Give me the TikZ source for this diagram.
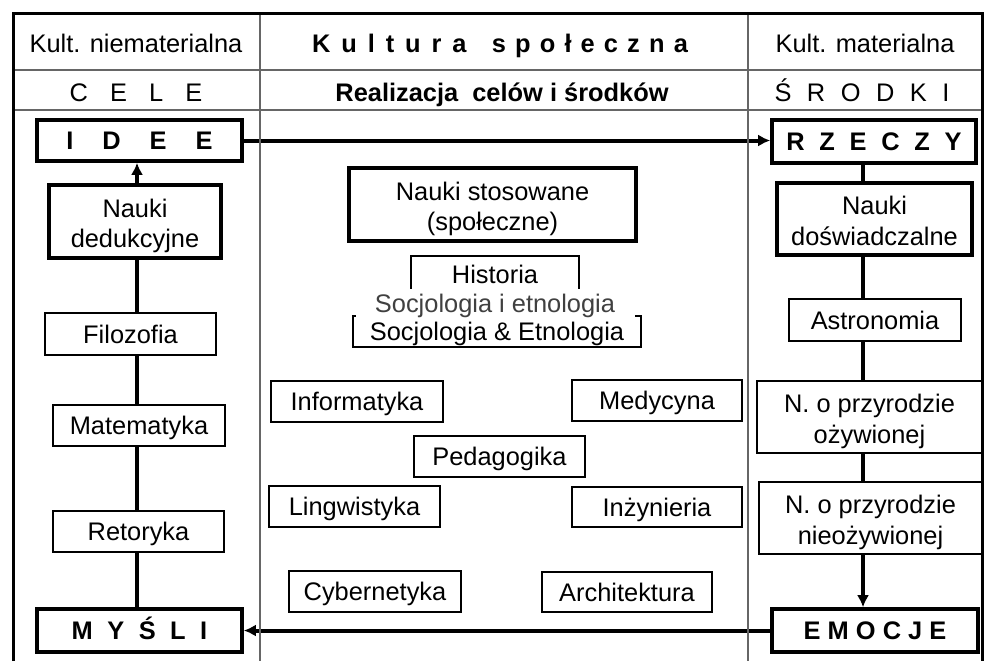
\documentclass[tikz,border=0pt]{standalone}
\usepackage{fontspec}
\setmainfont{Liberation Sans}
\usetikzlibrary{arrows.meta}

\newcommand{\rozstaw}[2]{{\spaceskip=#1\relax #2}}
\newcommand{\dwa}[2]{\rule{0pt}{13.6pt}#1\\#2\rule[-2.7pt]{0pt}{2.7pt}}

\begin{document}
\fontsize{12.7}{15.3}\selectfont
\begin{tikzpicture}[x=0.5pt, y=-0.5pt, >={Latex[length=6pt, width=6pt]},
  ramka/.style={draw, fill=white, line width=0.6pt, inner sep=0pt, text height=9.1pt, text depth=0pt},
  gruba/.style={ramka, line width=1.8pt},
  dwie/.style={align=center, text height={}, text depth={}},
  laczenie/.style={line width=2pt}]
  \useasboundingbox (0, 0) rectangle (984, 661);

  % naglowki
  \node [anchor=base] (kultn) at (136, 52) {Kult. niematerialna};
  \node [anchor=base, font=\bfseries] (kultura) at (500, 52) {\rozstaw{0.43em}{K u l t u r a}\hspace{1em}\rozstaw{0.36em}{s p o ł e c z n a}};
  \node [anchor=base] (kultm) at (865, 52) {Kult. materialna};
  \node [anchor=base] (cele) at (136, 101) {\rozstaw{0.87em}{C E L E}};
  \node [anchor=base, font=\bfseries] (realizacja) at (502, 101) {Realizacja\ \ celów i środków};
  \node [anchor=base] (srodki) at (862, 101) {\rozstaw{0.61em}{Ś R O D K I}};

  \coordinate (osL) at (137, 0);
  \coordinate (osP) at (863, 0);

  % kultura niematerialna
  \node [gruba, minimum width=102.5pt, minimum height=20.5pt, font=\bfseries] (idee) at (139.5, 140.5) {\rozstaw{1.14em}{I D E E}};
  \node [gruba, dwie, minimum width=86pt, minimum height=36.5pt] (dedukcyjne) at (135, 221.5) {\dwa{Nauki}{dedukcyjne}};
  \node [ramka, minimum width=85.5pt, minimum height=21pt] (filozofia) at (130.5, 334) {Filozofia};
  \node [ramka, minimum width=86pt, minimum height=20.5pt] (matematyka) at (139, 425.5) {Matematyka};
  \node [ramka, minimum width=85.5pt, minimum height=20.5pt] (retoryka) at (138.5, 531.5) {Retoryka};
  \node [gruba, minimum width=102.5pt, minimum height=21.5pt, font=\bfseries] (mysli) at (139.5, 630.5) {\rozstaw{0.57em}{M Y Ś L I}};

  % kultura materialna
  \node [gruba, minimum width=102pt, minimum height=21.5pt, font=\bfseries] (rzeczy) at (874, 141.5) {\rozstaw{0.58em}{R Z E C Z Y}};
  \node [gruba, dwie, minimum width=97.5pt, minimum height=36pt] (doswiadczalne) at (874.5, 219) {\dwa{Nauki}{doświadczalne}};
  \node [ramka, minimum width=86pt, minimum height=21pt] (astronomia) at (875, 320) {Astronomia};
  \node [ramka, dwie, minimum width=112.5pt, minimum height=36pt] (ozywionej) at (869.5, 417) {\dwa{N. o przyrodzie}{ożywionej}};
  \node [ramka, dwie, minimum width=111.5pt, minimum height=36pt] (nieozywionej) at (870.5, 518) {\dwa{N. o przyrodzie}{nieożywionej}};
  \node [gruba, minimum width=103pt, minimum height=21.5pt, font=\bfseries] (emocje) at (875, 630.5) {\rozstaw{0.28em}{E M O C J E}};

  % kultura spoleczna
  \node [gruba, dwie, minimum width=143.5pt, minimum height=36.5pt] (stosowane) at (492.5, 204.5) {\dwa{Nauki stosowane}{(społeczne)}};
  \node [ramka, minimum width=84pt, minimum height=18pt] (historia) at (495, 274) {Historia};
  \node [ramka, minimum width=144pt, minimum height=15.5pt] (socetn) at (497, 331.5) {Socjologia \& Etnologia};
  \node [fill=white, inner sep=0pt, minimum width=139.5pt, minimum height=14.5pt, text height=9.1pt, text depth=0pt, text=black!75] (socjologia) at (495, 303.5) {Socjologia i etnologia};
  \node [ramka, minimum width=86pt, minimum height=20.5pt] (informatyka) at (357, 401.5) {Informatyka};
  \node [ramka, minimum width=85pt, minimum height=20.5pt] (medycyna) at (657, 400.5) {Medycyna};
  \node [ramka, minimum width=85.5pt, minimum height=20.5pt] (pedagogika) at (499.5, 456.5) {Pedagogika};
  \node [ramka, minimum width=85.5pt, minimum height=20.5pt] (lingwistyka) at (354.5, 506.5) {Lingwistyka};
  \node [ramka, minimum width=85pt, minimum height=20pt] (inzynieria) at (657, 507) {Inżynieria};
  \node [ramka, minimum width=86pt, minimum height=20.5pt] (cybernetyka) at (375, 591.5) {Cybernetyka};
  \node [ramka, minimum width=85pt, minimum height=20pt] (architektura) at (627, 592) {Architektura};

  % polaczenia
  \draw [laczenie, ->] (dedukcyjne.north -| osL) -- (idee.south -| osL);
  \draw [laczenie] (dedukcyjne.south -| osL) -- (filozofia.north -| osL);
  \draw [laczenie] (filozofia.south -| osL) -- (matematyka.north -| osL);
  \draw [laczenie] (matematyka.south -| osL) -- (retoryka.north -| osL);
  \draw [laczenie] (retoryka.south -| osL) -- (mysli.north -| osL);
  \draw [laczenie, ->] (idee.east) -- (idee.east -| rzeczy.west);
  \draw [laczenie] (rzeczy.south -| osP) -- (doswiadczalne.north -| osP);
  \draw [laczenie] (doswiadczalne.south -| osP) -- (astronomia.north -| osP);
  \draw [laczenie] (astronomia.south -| osP) -- (ozywionej.north -| osP);
  \draw [laczenie] (ozywionej.south -| osP) -- (nieozywionej.north -| osP);
  \draw [laczenie, ->] (nieozywionej.south -| osP) -- (emocje.north -| osP);
  \draw [laczenie, ->] (emocje.west) -- (emocje.west -| mysli.east);

  % tabela
  \draw [black!60, line width=0.6pt] (260, 13) -- (260, 661) (748, 13) -- (748, 661)
    (13, 70) -- (982, 70) (13, 110) -- (982, 110);
  \draw [line width=1.5pt] (13, 661) -- (13, 13) -- (982, 13) -- (982, 661);
\end{tikzpicture}
\end{document}
